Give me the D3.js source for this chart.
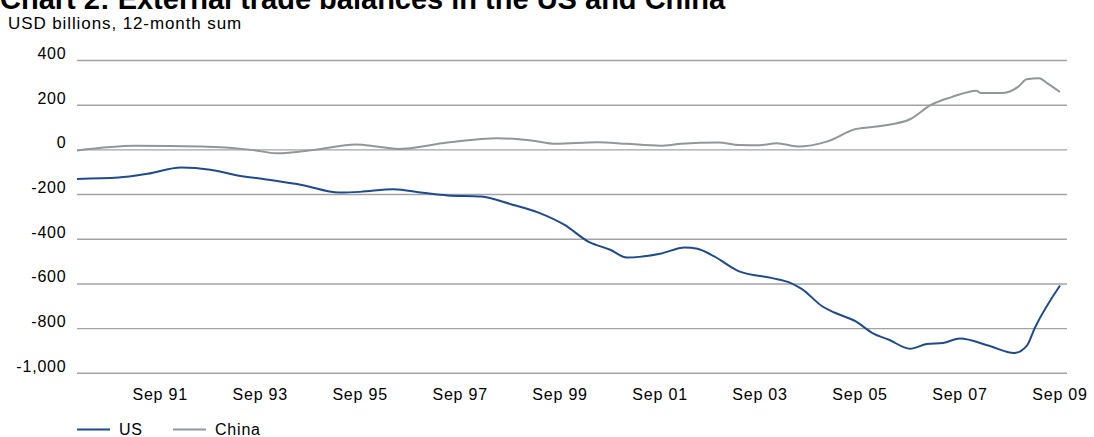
<!DOCTYPE html>
<html>
<head>
<meta charset="utf-8">
<script src="https://cdn.jsdelivr.net/npm/d3@7"></script>
<style>
  html, body { margin: 0; padding: 0; background: #fff; }
  svg { display: block; }
  text { font-family: Arial, "Liberation Sans", Helvetica, sans-serif; fill: #000; }
</style>
</head>
<body>
<svg id="chart" width="1094" height="437"></svg>
<script>
// US trade balance, USD billions, 12-month sum
const usSeries = [
  ["1990-01",-130],["1990-11",-124],["1991-06",-107],["1992-02",-79],["1992-09",-89],
  ["1993-03",-112],["1993-11",-134],["1994-07",-157],["1995-04",-191],["1995-09",-188],
  ["1996-05",-176],["1996-12",-192],["1997-06",-204],["1998-02",-209],["1998-09",-242],
  ["1999-04",-282],["1999-10",-335],["2000-04",-413],["2000-09",-447],["2001-01",-482],
  ["2001-09",-465],["2002-03",-437],["2002-06",-443],["2002-10",-477],["2003-04",-544],
  ["2003-12",-574],["2004-04",-593],["2004-07",-622],["2004-12",-701],["2005-03",-729],
  ["2005-08",-768],["2005-12",-820],["2006-04",-850],["2006-09",-890],["2007-01",-869],
  ["2007-05",-864],["2007-09",-844],["2008-04",-877],["2008-10",-909],["2009-01",-877],
  ["2009-03",-797],["2009-09",-607]
];

// China trade balance, USD billions, 12-month sum
const chinaSeries = [
  ["1990-01",-3],["1991-03",18],["1992-07",15],["1993-07",0],["1994-01",-15],
  ["1994-10",0],["1995-08",24],["1996-01",15],["1996-06",4],["1997-06",33],
  ["1998-06",52],["1999-02",42],["1999-08",27],["2000-06",34],["2001-01",27],
  ["2001-09",19],["2002-02",27],["2002-11",33],["2003-04",22],["2003-09",21],
  ["2004-01",30],["2004-06",15],["2005-01",37],["2005-08",93],["2006-02",107],
  ["2006-09",137],["2007-02",201],["2007-07",236],["2008-01",265],["2008-02",254],
  ["2008-07",254],["2008-11",283],["2009-01",316],["2009-04",321],["2009-06",298],
  ["2009-09",259]
];

const yTicks = [400, 200, 0, -200, -400, -600, -800, -1000];
const xTickDates = ["1991-09","1993-09","1995-09","1997-09","1999-09","2001-09","2003-09","2005-09","2007-09","2009-09"];
const xTickLabels = ["Sep 91","Sep 93","Sep 95","Sep 97","Sep 99","Sep 01","Sep 03","Sep 05","Sep 07","Sep 09"];
const seriesNames = ["US", "China"];
const seriesColors = ["#1f4b8e", "#8f979b"];

const titleText = "Chart 2: External trade balances in the US and China";
const subtitleText = "USD billions, 12-month sum";

const parseMonth = d3.timeParse("%Y-%m");
const svg = d3.select("#chart");

const gridLeft = 77, gridRight = 1067;
const x = d3.scaleTime()
  .domain([parseMonth("1990-01"), parseMonth("2009-09")])
  .range([77, 1060]);
const y = d3.scaleLinear()
  .domain([-1000, 400])
  .range([373.3, 60.5]);

// Title (runs off the top edge) and units line
svg.append("text")
  .attr("x", 0).attr("y", 9)
  .style("font-size", "29px").style("font-weight", "bold")
  .text(titleText);
svg.append("text")
  .attr("x", 8).attr("y", 29)
  .style("font-size", "17px").style("letter-spacing", "0.9px")
  .text(subtitleText);

// Horizontal gridlines
svg.append("g")
  .selectAll("line")
  .data(yTicks)
  .join("line")
  .attr("x1", gridLeft).attr("x2", gridRight)
  .attr("y1", d => y(d)).attr("y2", d => y(d))
  .attr("stroke", "#a3a3a3").attr("stroke-width", 1.4);

// Y tick labels sit just above their gridlines
const fmt = d3.formatLocale({decimal: ".", thousands: ",", grouping: [3], currency: ["", ""], minus: "-"}).format(",");
svg.append("g")
  .selectAll("text")
  .data(yTicks)
  .join("text")
  .attr("x", 66.5).attr("y", d => y(d) - 1.5)
  .attr("text-anchor", "end")
  .style("font-size", "16px").style("letter-spacing", "0.8px")
  .text(d => fmt(d));

// X tick labels
svg.append("g")
  .selectAll("text")
  .data(xTickDates)
  .join("text")
  .attr("x", d => x(parseMonth(d)))
  .attr("y", 400)
  .attr("text-anchor", "middle")
  .style("font-size", "16px").style("letter-spacing", "0.8px")
  .text((d, i) => xTickLabels[i]);

// Series lines
const line = d3.line()
  .x(d => x(parseMonth(d[0])))
  .y(d => y(d[1]))
  .curve(d3.curveMonotoneX);

[chinaSeries, usSeries].forEach((s, i) => {
  const idx = i === 0 ? 1 : 0;
  svg.append("path")
    .datum(s)
    .attr("fill", "none")
    .attr("stroke", seriesColors[idx])
    .attr("stroke-width", 2)
    .attr("stroke-linejoin", "round")
    .attr("d", line);
});

// Legend
const legendX = [77, 173];
const legend = svg.append("g");
seriesNames.forEach((name, i) => {
  legend.append("line")
    .attr("x1", legendX[i]).attr("x2", legendX[i] + 33)
    .attr("y1", 429.5).attr("y2", 429.5)
    .attr("stroke", seriesColors[i]).attr("stroke-width", 2);
  legend.append("text")
    .attr("x", legendX[i] + 42).attr("y", 434.5)
    .style("font-size", "16px").style("letter-spacing", "0.8px")
    .text(name);
});
</script>
</body>
</html>
